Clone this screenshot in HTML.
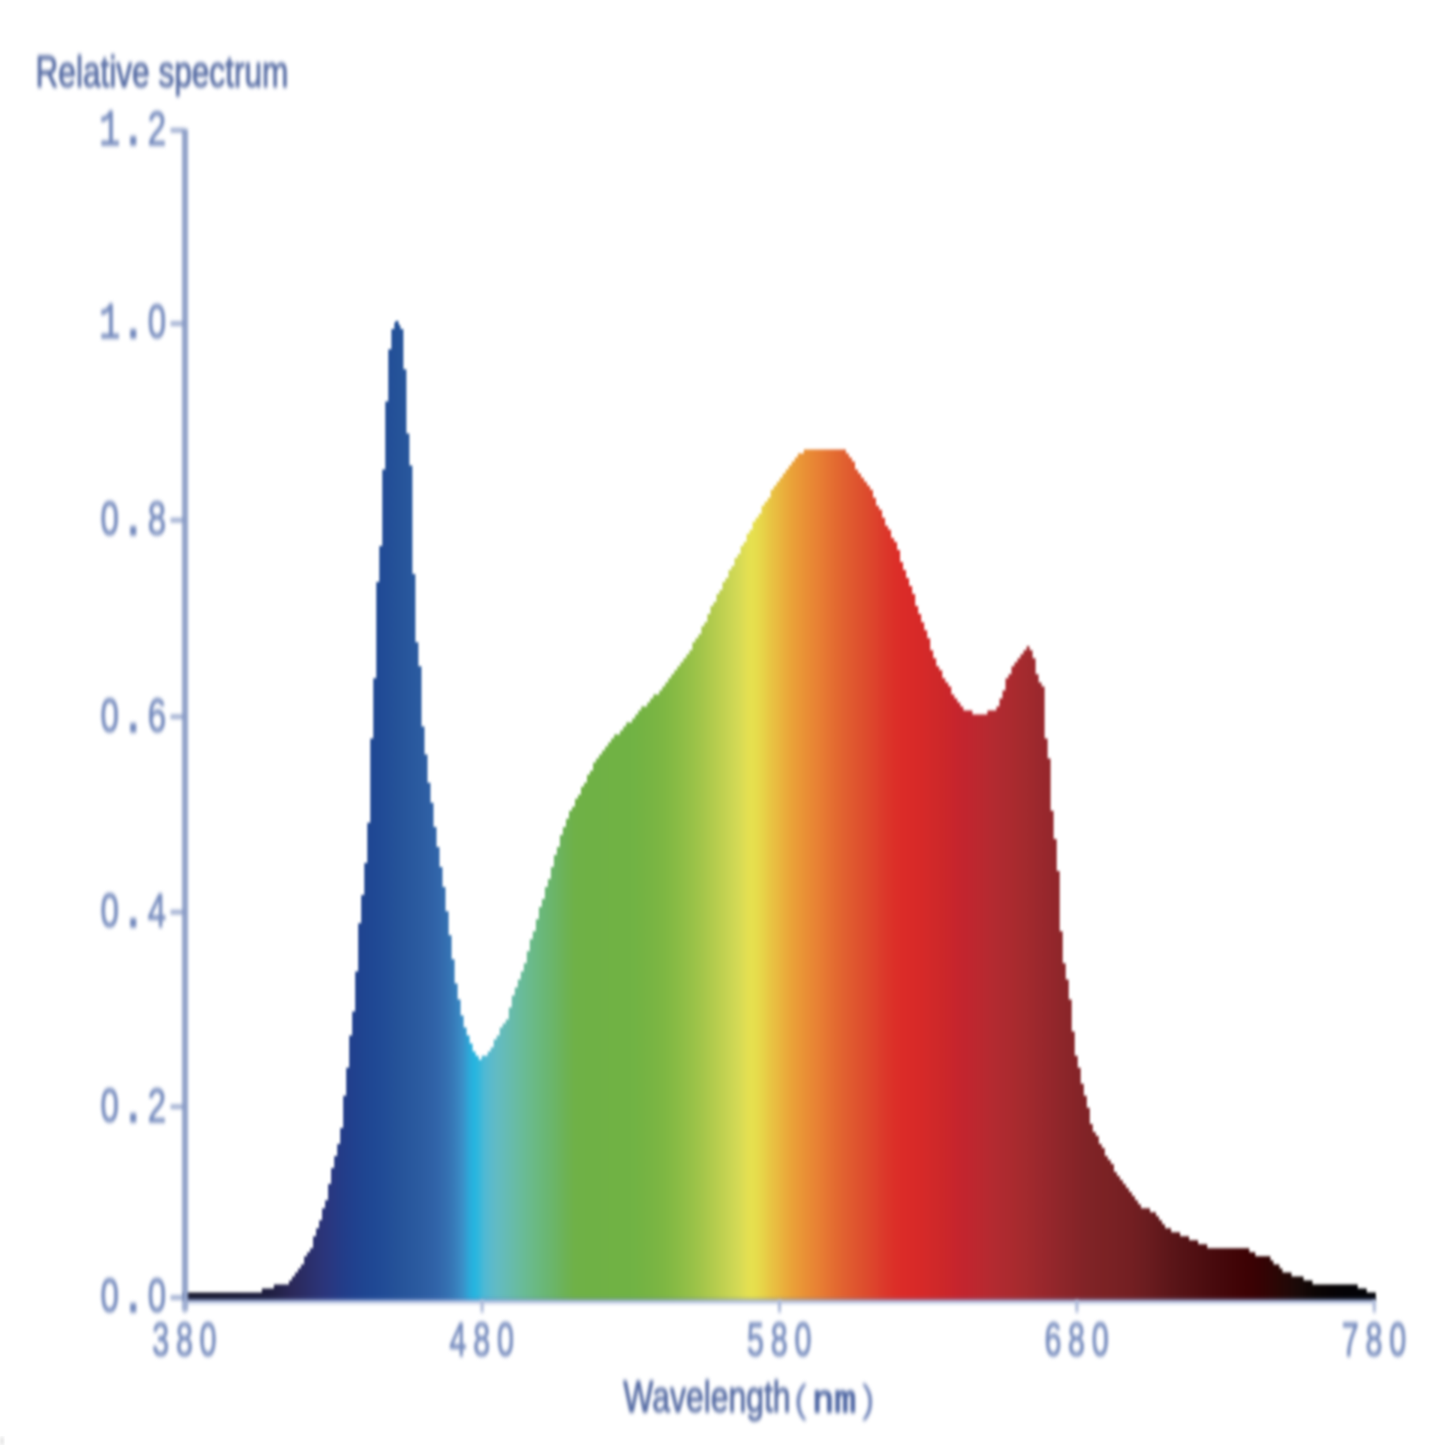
<!DOCTYPE html>
<html><head><meta charset="utf-8"><title>Relative spectrum</title>
<style>
html,body{margin:0;padding:0;background:#fff;}
body{width:1445px;height:1445px;overflow:hidden;}
svg{display:block;}
.dig{font-family:"Liberation Sans","DejaVu Sans",sans-serif;font-size:33px;fill:#748abd;stroke:#748abd;stroke-width:0.7px;}
.dx{font-size:30.5px;}
.mono.par{fill:#7286ba;stroke:#7286ba;stroke-width:0.3px;}
.mono .nm{fill:#5068a4;stroke:#5068a4;stroke-width:1.5px;}
.pt{font-size:38px;font-weight:bold;}
.m1{font-family:"Liberation Mono","DejaVu Sans Mono",monospace;font-size:35.5px;}
.mono{font-family:"Liberation Mono","DejaVu Sans Mono",monospace;font-size:36.6px;fill:#6880b6;stroke:#6880b6;stroke-width:0.9px;}
.sans{font-family:"Liberation Sans","DejaVu Sans",sans-serif;fill:#566ca4;stroke:#566ca4;stroke-width:0.7px;}
</style></head><body>
<svg width="1445" height="1445" viewBox="0 0 1445 1445">
<defs>
<linearGradient id="sp" gradientUnits="userSpaceOnUse" x1="184.7" y1="0" x2="1376" y2="0">
<stop offset="0.0000" stop-color="#1a1a30"/>
<stop offset="0.0063" stop-color="#1a1a30"/>
<stop offset="0.0126" stop-color="#1a1a31"/>
<stop offset="0.0189" stop-color="#1a1a31"/>
<stop offset="0.0252" stop-color="#1a1a32"/>
<stop offset="0.0314" stop-color="#1b1b33"/>
<stop offset="0.0377" stop-color="#1b1b35"/>
<stop offset="0.0440" stop-color="#1b1b36"/>
<stop offset="0.0503" stop-color="#1c1c38"/>
<stop offset="0.0566" stop-color="#1c1c3a"/>
<stop offset="0.0629" stop-color="#1d1d3c"/>
<stop offset="0.0632" stop-color="#1d1d3c"/>
<stop offset="0.0692" stop-color="#1f1e40"/>
<stop offset="0.0755" stop-color="#222146"/>
<stop offset="0.0818" stop-color="#26244e"/>
<stop offset="0.0881" stop-color="#2a2757"/>
<stop offset="0.0939" stop-color="#2b2a5e"/>
<stop offset="0.0943" stop-color="#2b2a5e"/>
<stop offset="0.1006" stop-color="#2b2d66"/>
<stop offset="0.1069" stop-color="#2b306f"/>
<stop offset="0.1132" stop-color="#2b3376"/>
<stop offset="0.1148" stop-color="#2b3478"/>
<stop offset="0.1195" stop-color="#2a367d"/>
<stop offset="0.1258" stop-color="#273983"/>
<stop offset="0.1321" stop-color="#233c88"/>
<stop offset="0.1379" stop-color="#213f8c"/>
<stop offset="0.1384" stop-color="#213f8c"/>
<stop offset="0.1447" stop-color="#20428f"/>
<stop offset="0.1509" stop-color="#1f4591"/>
<stop offset="0.1564" stop-color="#1f4793"/>
<stop offset="0.1572" stop-color="#1f4793"/>
<stop offset="0.1635" stop-color="#204a95"/>
<stop offset="0.1698" stop-color="#224d97"/>
<stop offset="0.1761" stop-color="#245198"/>
<stop offset="0.1824" stop-color="#26549a"/>
<stop offset="0.1846" stop-color="#27559b"/>
<stop offset="0.1887" stop-color="#28579d"/>
<stop offset="0.1950" stop-color="#2a5a9f"/>
<stop offset="0.2013" stop-color="#2d5da2"/>
<stop offset="0.2075" stop-color="#2f61a6"/>
<stop offset="0.2101" stop-color="#3063a8"/>
<stop offset="0.2138" stop-color="#3267ab"/>
<stop offset="0.2201" stop-color="#3470b1"/>
<stop offset="0.2240" stop-color="#3677b6"/>
<stop offset="0.2264" stop-color="#377cba"/>
<stop offset="0.2327" stop-color="#3a8ec7"/>
<stop offset="0.2334" stop-color="#3a90c8"/>
<stop offset="0.2390" stop-color="#2ca9d9"/>
<stop offset="0.2427" stop-color="#25b4df"/>
<stop offset="0.2453" stop-color="#2cb6de"/>
<stop offset="0.2516" stop-color="#4eb9d4"/>
<stop offset="0.2519" stop-color="#4fb9d4"/>
<stop offset="0.2579" stop-color="#5cbaca"/>
<stop offset="0.2636" stop-color="#63bbc0"/>
<stop offset="0.2642" stop-color="#63bbbf"/>
<stop offset="0.2704" stop-color="#66bbb3"/>
<stop offset="0.2767" stop-color="#68bba6"/>
<stop offset="0.2830" stop-color="#69bb99"/>
<stop offset="0.2845" stop-color="#69bb96"/>
<stop offset="0.2893" stop-color="#6aba8d"/>
<stop offset="0.2956" stop-color="#6ab981"/>
<stop offset="0.3019" stop-color="#6ab776"/>
<stop offset="0.3077" stop-color="#6bb56c"/>
<stop offset="0.3082" stop-color="#6bb56b"/>
<stop offset="0.3145" stop-color="#6cb35f"/>
<stop offset="0.3208" stop-color="#6db252"/>
<stop offset="0.3270" stop-color="#6fb148"/>
<stop offset="0.3310" stop-color="#6fb146"/>
<stop offset="0.3333" stop-color="#6fb146"/>
<stop offset="0.3396" stop-color="#6fb145"/>
<stop offset="0.3459" stop-color="#6fb145"/>
<stop offset="0.3522" stop-color="#70b145"/>
<stop offset="0.3585" stop-color="#70b244"/>
<stop offset="0.3648" stop-color="#70b244"/>
<stop offset="0.3704" stop-color="#70b244"/>
<stop offset="0.3711" stop-color="#70b244"/>
<stop offset="0.3774" stop-color="#71b344"/>
<stop offset="0.3836" stop-color="#74b343"/>
<stop offset="0.3899" stop-color="#77b443"/>
<stop offset="0.3962" stop-color="#7ab543"/>
<stop offset="0.3990" stop-color="#7cb643"/>
<stop offset="0.4025" stop-color="#7eb743"/>
<stop offset="0.4088" stop-color="#84b944"/>
<stop offset="0.4151" stop-color="#8bbc45"/>
<stop offset="0.4214" stop-color="#92bf47"/>
<stop offset="0.4222" stop-color="#93bf47"/>
<stop offset="0.4277" stop-color="#9ac248"/>
<stop offset="0.4340" stop-color="#a3c54a"/>
<stop offset="0.4403" stop-color="#adc94c"/>
<stop offset="0.4455" stop-color="#b5cc4e"/>
<stop offset="0.4465" stop-color="#b7cd4e"/>
<stop offset="0.4528" stop-color="#c1d151"/>
<stop offset="0.4591" stop-color="#cbd654"/>
<stop offset="0.4640" stop-color="#d3d955"/>
<stop offset="0.4654" stop-color="#d5da55"/>
<stop offset="0.4717" stop-color="#e2df52"/>
<stop offset="0.4756" stop-color="#e6e04f"/>
<stop offset="0.4780" stop-color="#e6df4d"/>
<stop offset="0.4843" stop-color="#e7d549"/>
<stop offset="0.4906" stop-color="#e8c744"/>
<stop offset="0.4919" stop-color="#e8c443"/>
<stop offset="0.4969" stop-color="#e9bb40"/>
<stop offset="0.5031" stop-color="#eaae3c"/>
<stop offset="0.5094" stop-color="#eaa238"/>
<stop offset="0.5105" stop-color="#eaa038"/>
<stop offset="0.5157" stop-color="#ea9837"/>
<stop offset="0.5220" stop-color="#e98e35"/>
<stop offset="0.5283" stop-color="#e88534"/>
<stop offset="0.5291" stop-color="#e88434"/>
<stop offset="0.5346" stop-color="#e77c33"/>
<stop offset="0.5409" stop-color="#e57232"/>
<stop offset="0.5472" stop-color="#e36930"/>
<stop offset="0.5501" stop-color="#e26530"/>
<stop offset="0.5535" stop-color="#e16130"/>
<stop offset="0.5597" stop-color="#e0592f"/>
<stop offset="0.5660" stop-color="#de522e"/>
<stop offset="0.5723" stop-color="#dd4b2d"/>
<stop offset="0.5732" stop-color="#dd4a2d"/>
<stop offset="0.5786" stop-color="#dd442c"/>
<stop offset="0.5849" stop-color="#dc3b2b"/>
<stop offset="0.5912" stop-color="#dc3429"/>
<stop offset="0.5975" stop-color="#dc2e28"/>
<stop offset="0.6035" stop-color="#db2b28"/>
<stop offset="0.6038" stop-color="#db2b28"/>
<stop offset="0.6101" stop-color="#d92a28"/>
<stop offset="0.6164" stop-color="#d72928"/>
<stop offset="0.6226" stop-color="#d42929"/>
<stop offset="0.6289" stop-color="#d02829"/>
<stop offset="0.6313" stop-color="#cf2829"/>
<stop offset="0.6352" stop-color="#cd2729"/>
<stop offset="0.6415" stop-color="#ca262b"/>
<stop offset="0.6478" stop-color="#c6252d"/>
<stop offset="0.6541" stop-color="#c2252e"/>
<stop offset="0.6546" stop-color="#c2252e"/>
<stop offset="0.6604" stop-color="#bf262f"/>
<stop offset="0.6667" stop-color="#bb282f"/>
<stop offset="0.6730" stop-color="#b72930"/>
<stop offset="0.6777" stop-color="#b42a30"/>
<stop offset="0.6792" stop-color="#b32a30"/>
<stop offset="0.6855" stop-color="#af2a30"/>
<stop offset="0.6918" stop-color="#ac2a2f"/>
<stop offset="0.6981" stop-color="#a82a2e"/>
<stop offset="0.7012" stop-color="#a62a2e"/>
<stop offset="0.7044" stop-color="#a42a2e"/>
<stop offset="0.7107" stop-color="#a0292d"/>
<stop offset="0.7170" stop-color="#9b282d"/>
<stop offset="0.7233" stop-color="#97272c"/>
<stop offset="0.7244" stop-color="#96272c"/>
<stop offset="0.7296" stop-color="#93262b"/>
<stop offset="0.7358" stop-color="#8e262a"/>
<stop offset="0.7421" stop-color="#8a2529"/>
<stop offset="0.7484" stop-color="#862428"/>
<stop offset="0.7547" stop-color="#822327"/>
<stop offset="0.7591" stop-color="#802326"/>
<stop offset="0.7610" stop-color="#7f2326"/>
<stop offset="0.7673" stop-color="#7d2225"/>
<stop offset="0.7736" stop-color="#7b2224"/>
<stop offset="0.7799" stop-color="#792124"/>
<stop offset="0.7862" stop-color="#762023"/>
<stop offset="0.7925" stop-color="#741f22"/>
<stop offset="0.7941" stop-color="#731f22"/>
<stop offset="0.7987" stop-color="#701e21"/>
<stop offset="0.8050" stop-color="#6c1d20"/>
<stop offset="0.8113" stop-color="#681b1e"/>
<stop offset="0.8176" stop-color="#63191c"/>
<stop offset="0.8239" stop-color="#5e171a"/>
<stop offset="0.8288" stop-color="#5b1518"/>
<stop offset="0.8302" stop-color="#5a1518"/>
<stop offset="0.8365" stop-color="#561316"/>
<stop offset="0.8428" stop-color="#531114"/>
<stop offset="0.8491" stop-color="#500f12"/>
<stop offset="0.8553" stop-color="#4c0d10"/>
<stop offset="0.8616" stop-color="#490b0e"/>
<stop offset="0.8640" stop-color="#480a0d"/>
<stop offset="0.8679" stop-color="#46090c"/>
<stop offset="0.8742" stop-color="#44070a"/>
<stop offset="0.8805" stop-color="#410507"/>
<stop offset="0.8868" stop-color="#3f0305"/>
<stop offset="0.8931" stop-color="#3c0204"/>
<stop offset="0.8968" stop-color="#3a0204"/>
<stop offset="0.8994" stop-color="#380204"/>
<stop offset="0.9057" stop-color="#340304"/>
<stop offset="0.9119" stop-color="#2f0505"/>
<stop offset="0.9152" stop-color="#2c0605"/>
<stop offset="0.9182" stop-color="#290705"/>
<stop offset="0.9245" stop-color="#240807"/>
<stop offset="0.9308" stop-color="#1e0908"/>
<stop offset="0.9328" stop-color="#1c0908"/>
<stop offset="0.9371" stop-color="#180908"/>
<stop offset="0.9434" stop-color="#110706"/>
<stop offset="0.9497" stop-color="#0c0505"/>
<stop offset="0.9513" stop-color="#0b0505"/>
<stop offset="0.9560" stop-color="#090405"/>
<stop offset="0.9623" stop-color="#070305"/>
<stop offset="0.9686" stop-color="#050306"/>
<stop offset="0.9698" stop-color="#050306"/>
<stop offset="0.9748" stop-color="#040306"/>
<stop offset="0.9811" stop-color="#040307"/>
<stop offset="0.9874" stop-color="#030307"/>
<stop offset="0.9937" stop-color="#030308"/>
<stop offset="1.0000" stop-color="#030308"/>
</linearGradient>
<filter id="bl" color-interpolation-filters="sRGB" x="-2%" y="-2%" width="104%" height="104%"><feGaussianBlur stdDeviation="1.5 1.9"/></filter>
<filter id="bf" color-interpolation-filters="sRGB" x="-2%" y="-2%" width="104%" height="104%"><feGaussianBlur stdDeviation="1.15 1.45"/></filter>
</defs>
<rect width="1445" height="1445" fill="#fff"/>
<rect x="0" y="1437" width="4" height="8" fill="#e6e6e6" filter="url(#bl)"/>
<g filter="url(#bf)">
<polygon fill="url(#sp)" points="183.6,1292.5 186.6,1292.5 186.6,1292.5 189.7,1292.5 189.7,1292.5 192.7,1292.5 192.7,1292.5 195.7,1292.5 195.7,1292.5 198.7,1292.5 198.7,1292.5 201.7,1292.5 201.7,1292.5 204.7,1292.5 204.7,1292.5 207.7,1292.5 207.7,1292.5 210.7,1292.5 210.7,1292.5 213.7,1292.5 213.7,1292.5 216.8,1292.5 216.8,1292.5 219.8,1292.5 219.8,1292.5 222.8,1292.5 222.8,1292.5 225.8,1292.5 225.8,1292.5 228.8,1292.5 228.8,1292.5 231.8,1292.5 231.8,1292.5 234.8,1292.5 234.8,1292.5 237.8,1292.5 237.8,1292.5 240.8,1292.5 240.8,1292.5 243.8,1292.5 243.8,1292.5 246.9,1292.5 246.9,1292.5 249.9,1292.5 249.9,1292.5 252.9,1292.5 252.9,1292.5 255.9,1292.5 255.9,1292.5 258.9,1292.5 258.9,1292.5 261.9,1292.5 261.9,1288.5 264.9,1288.5 264.9,1288.5 267.9,1288.5 267.9,1288.5 270.9,1288.5 270.9,1288.5 273.9,1288.5 273.9,1284.4 277.0,1284.4 277.0,1284.4 280.0,1284.4 280.0,1284.4 283.0,1284.4 283.0,1284.4 286.0,1284.4 286.0,1284.4 289.0,1284.4 289.0,1280.4 292.0,1280.4 292.0,1276.4 295.0,1276.4 295.0,1272.4 298.0,1272.4 298.0,1268.4 301.0,1268.4 301.0,1264.4 304.1,1264.4 304.1,1256.3 307.1,1256.3 307.1,1252.3 310.1,1252.3 310.1,1248.3 313.1,1248.3 313.1,1236.3 316.1,1236.3 316.1,1228.3 319.1,1228.3 319.1,1220.2 322.1,1220.2 322.1,1208.2 325.1,1208.2 325.1,1200.2 328.1,1200.2 328.1,1184.1 331.1,1184.1 331.1,1168.0 334.2,1168.0 334.2,1156.0 337.2,1156.0 337.2,1144.0 340.2,1144.0 340.2,1127.9 343.2,1127.9 343.2,1095.8 346.2,1095.8 346.2,1067.7 349.2,1067.7 349.2,1035.6 352.2,1035.6 352.2,1011.5 355.2,1011.5 355.2,971.4 358.2,971.4 358.2,923.2 361.2,923.2 361.2,895.1 364.3,895.1 364.3,863.0 367.3,863.0 367.3,822.8 370.3,822.8 370.3,738.6 373.3,738.6 373.3,678.3 376.3,678.3 376.3,582.0 379.3,582.0 379.3,545.9 382.3,545.9 382.3,469.6 385.3,469.6 385.3,401.4 388.3,401.4 388.3,349.2 391.4,349.2 391.4,329.1 394.4,329.1 394.4,325.1 397.4,325.1 397.4,325.1 400.4,325.1 400.4,329.1 403.4,329.1 403.4,369.3 406.4,369.3 406.4,433.5 409.4,433.5 409.4,465.6 412.4,465.6 412.4,574.0 415.4,574.0 415.4,642.2 418.4,642.2 418.4,666.3 421.5,666.3 421.5,726.5 424.5,726.5 424.5,754.6 427.5,754.6 427.5,782.7 430.5,782.7 430.5,802.8 433.5,802.8 433.5,826.9 436.5,826.9 436.5,846.9 439.5,846.9 439.5,867.0 442.5,867.0 442.5,887.1 445.5,887.1 445.5,911.2 448.6,911.2 448.6,935.2 451.6,935.2 451.6,959.3 454.6,959.3 454.6,983.4 457.6,983.4 457.6,999.5 460.6,999.5 460.6,1015.5 463.6,1015.5 463.6,1027.6 466.6,1027.6 466.6,1035.6 469.6,1035.6 469.6,1043.6 472.6,1043.6 472.6,1051.6 475.6,1051.6 475.6,1055.7 478.7,1055.7 478.7,1059.7 481.7,1059.7 481.7,1055.7 484.7,1055.7 484.7,1055.7 487.7,1055.7 487.7,1051.6 490.7,1051.6 490.7,1047.6 493.7,1047.6 493.7,1039.6 496.7,1039.6 496.7,1035.6 499.7,1035.6 499.7,1027.6 502.7,1027.6 502.7,1023.5 505.8,1023.5 505.8,1019.5 508.8,1019.5 508.8,1007.5 511.8,1007.5 511.8,995.4 514.8,995.4 514.8,987.4 517.8,987.4 517.8,979.4 520.8,979.4 520.8,971.4 523.8,971.4 523.8,963.3 526.8,963.3 526.8,951.3 529.8,951.3 529.8,939.3 532.8,939.3 532.8,931.2 535.9,931.2 535.9,919.2 538.9,919.2 538.9,907.1 541.9,907.1 541.9,899.1 544.9,899.1 544.9,887.1 547.9,887.1 547.9,879.0 550.9,879.0 550.9,867.0 553.9,867.0 553.9,855.0 556.9,855.0 556.9,846.9 559.9,846.9 559.9,834.9 562.9,834.9 562.9,826.9 566.0,826.9 566.0,818.8 569.0,818.8 569.0,810.8 572.0,810.8 572.0,806.8 575.0,806.8 575.0,798.8 578.0,798.8 578.0,794.8 581.0,794.8 581.0,786.7 584.0,786.7 584.0,782.7 587.0,782.7 587.0,774.7 590.0,774.7 590.0,770.7 593.1,770.7 593.1,762.6 596.1,762.6 596.1,758.6 599.1,758.6 599.1,754.6 602.1,754.6 602.1,750.6 605.1,750.6 605.1,746.6 608.1,746.6 608.1,742.6 611.1,742.6 611.1,738.6 614.1,738.6 614.1,734.5 617.1,734.5 617.1,734.5 620.1,734.5 620.1,730.5 623.2,730.5 623.2,726.5 626.2,726.5 626.2,722.5 629.2,722.5 629.2,722.5 632.2,722.5 632.2,718.5 635.2,718.5 635.2,714.5 638.2,714.5 638.2,710.5 641.2,710.5 641.2,706.4 644.2,706.4 644.2,706.4 647.2,706.4 647.2,702.4 650.2,702.4 650.2,698.4 653.3,698.4 653.3,694.4 656.3,694.4 656.3,694.4 659.3,694.4 659.3,690.4 662.3,690.4 662.3,686.4 665.3,686.4 665.3,682.4 668.3,682.4 668.3,678.3 671.3,678.3 671.3,674.3 674.3,674.3 674.3,670.3 677.3,670.3 677.3,666.3 680.4,666.3 680.4,662.3 683.4,662.3 683.4,658.3 686.4,658.3 686.4,654.3 689.4,654.3 689.4,650.3 692.4,650.3 692.4,642.2 695.4,642.2 695.4,638.2 698.4,638.2 698.4,634.2 701.4,634.2 701.4,626.2 704.4,626.2 704.4,622.2 707.4,622.2 707.4,614.1 710.5,614.1 710.5,606.1 713.5,606.1 713.5,602.1 716.5,602.1 716.5,594.1 719.5,594.1 719.5,590.0 722.5,590.0 722.5,582.0 725.5,582.0 725.5,578.0 728.5,578.0 728.5,570.0 731.5,570.0 731.5,566.0 734.5,566.0 734.5,557.9 737.6,557.9 737.6,553.9 740.6,553.9 740.6,545.9 743.6,545.9 743.6,541.9 746.6,541.9 746.6,533.8 749.6,533.8 749.6,529.8 752.6,529.8 752.6,521.8 755.6,521.8 755.6,517.8 758.6,517.8 758.6,513.8 761.6,513.8 761.6,505.8 764.6,505.8 764.6,501.7 767.7,501.7 767.7,497.7 770.7,497.7 770.7,489.7 773.7,489.7 773.7,485.7 776.7,485.7 776.7,481.7 779.7,481.7 779.7,477.7 782.7,477.7 782.7,473.6 785.7,473.6 785.7,469.6 788.7,469.6 788.7,465.6 791.7,465.6 791.7,461.6 794.8,461.6 794.8,457.6 797.8,457.6 797.8,453.6 800.8,453.6 800.8,453.6 803.8,453.6 803.8,449.6 806.8,449.6 806.8,449.6 809.8,449.6 809.8,449.6 812.8,449.6 812.8,449.6 815.8,449.6 815.8,449.6 818.8,449.6 818.8,449.6 821.8,449.6 821.8,449.6 824.9,449.6 824.9,449.6 827.9,449.6 827.9,449.6 830.9,449.6 830.9,449.6 833.9,449.6 833.9,449.6 836.9,449.6 836.9,449.6 839.9,449.6 839.9,449.6 842.9,449.6 842.9,449.6 845.9,449.6 845.9,453.6 848.9,453.6 848.9,457.6 851.9,457.6 851.9,461.6 855.0,461.6 855.0,469.6 858.0,469.6 858.0,473.6 861.0,473.6 861.0,477.7 864.0,477.7 864.0,481.7 867.0,481.7 867.0,485.7 870.0,485.7 870.0,489.7 873.0,489.7 873.0,497.7 876.0,497.7 876.0,505.8 879.0,505.8 879.0,509.8 882.1,509.8 882.1,517.8 885.1,517.8 885.1,525.8 888.1,525.8 888.1,529.8 891.1,529.8 891.1,537.9 894.1,537.9 894.1,541.9 897.1,541.9 897.1,549.9 900.1,549.9 900.1,561.9 903.1,561.9 903.1,570.0 906.1,570.0 906.1,578.0 909.1,578.0 909.1,586.0 912.2,586.0 912.2,594.1 915.2,594.1 915.2,606.1 918.2,606.1 918.2,614.1 921.2,614.1 921.2,622.2 924.2,622.2 924.2,630.2 927.2,630.2 927.2,638.2 930.2,638.2 930.2,650.3 933.2,650.3 933.2,658.3 936.2,658.3 936.2,666.3 939.2,666.3 939.2,670.3 942.3,670.3 942.3,678.3 945.3,678.3 945.3,682.4 948.3,682.4 948.3,686.4 951.3,686.4 951.3,694.4 954.3,694.4 954.3,698.4 957.3,698.4 957.3,702.4 960.3,702.4 960.3,706.4 963.3,706.4 963.3,710.5 966.3,710.5 966.3,710.5 969.4,710.5 969.4,710.5 972.4,710.5 972.4,714.5 975.4,714.5 975.4,714.5 978.4,714.5 978.4,714.5 981.4,714.5 981.4,714.5 984.4,714.5 984.4,714.5 987.4,714.5 987.4,710.5 990.4,710.5 990.4,710.5 993.4,710.5 993.4,710.5 996.4,710.5 996.4,706.4 999.5,706.4 999.5,698.4 1002.5,698.4 1002.5,690.4 1005.5,690.4 1005.5,678.3 1008.5,678.3 1008.5,674.3 1011.5,674.3 1011.5,666.3 1014.5,666.3 1014.5,662.3 1017.5,662.3 1017.5,658.3 1020.5,658.3 1020.5,654.3 1023.5,654.3 1023.5,650.3 1026.6,650.3 1026.6,646.2 1029.6,646.2 1029.6,650.3 1032.6,650.3 1032.6,658.3 1035.6,658.3 1035.6,674.3 1038.6,674.3 1038.6,682.4 1041.6,682.4 1041.6,686.4 1044.6,686.4 1044.6,738.6 1047.6,738.6 1047.6,758.6 1050.6,758.6 1050.6,810.8 1053.6,810.8 1053.6,838.9 1056.7,838.9 1056.7,871.0 1059.7,871.0 1059.7,931.2 1062.7,931.2 1062.7,963.3 1065.7,963.3 1065.7,979.4 1068.7,979.4 1068.7,999.5 1071.7,999.5 1071.7,1031.6 1074.7,1031.6 1074.7,1055.7 1077.7,1055.7 1077.7,1067.7 1080.7,1067.7 1080.7,1083.8 1083.8,1083.8 1083.8,1095.8 1086.8,1095.8 1086.8,1107.8 1089.8,1107.8 1089.8,1123.9 1092.8,1123.9 1092.8,1131.9 1095.8,1131.9 1095.8,1135.9 1098.8,1135.9 1098.8,1144.0 1101.8,1144.0 1101.8,1148.0 1104.8,1148.0 1104.8,1156.0 1107.8,1156.0 1107.8,1160.0 1110.8,1160.0 1110.8,1164.0 1113.9,1164.0 1113.9,1172.1 1116.9,1172.1 1116.9,1176.1 1119.9,1176.1 1119.9,1180.1 1122.9,1180.1 1122.9,1184.1 1125.9,1184.1 1125.9,1188.1 1128.9,1188.1 1128.9,1192.1 1131.9,1192.1 1131.9,1196.1 1134.9,1196.1 1134.9,1200.2 1137.9,1200.2 1137.9,1204.2 1140.9,1204.2 1140.9,1208.2 1144.0,1208.2 1144.0,1208.2 1147.0,1208.2 1147.0,1208.2 1150.0,1208.2 1150.0,1212.2 1153.0,1212.2 1153.0,1212.2 1156.0,1212.2 1156.0,1216.2 1159.0,1216.2 1159.0,1220.2 1162.0,1220.2 1162.0,1224.2 1165.0,1224.2 1165.0,1228.3 1168.0,1228.3 1168.0,1228.3 1171.1,1228.3 1171.1,1232.3 1174.1,1232.3 1174.1,1232.3 1177.1,1232.3 1177.1,1232.3 1180.1,1232.3 1180.1,1236.3 1183.1,1236.3 1183.1,1236.3 1186.1,1236.3 1186.1,1236.3 1189.1,1236.3 1189.1,1240.3 1192.1,1240.3 1192.1,1240.3 1195.1,1240.3 1195.1,1240.3 1198.1,1240.3 1198.1,1244.3 1201.2,1244.3 1201.2,1244.3 1204.2,1244.3 1204.2,1244.3 1207.2,1244.3 1207.2,1248.3 1210.2,1248.3 1210.2,1248.3 1213.2,1248.3 1213.2,1248.3 1216.2,1248.3 1216.2,1248.3 1219.2,1248.3 1219.2,1248.3 1222.2,1248.3 1222.2,1248.3 1225.2,1248.3 1225.2,1248.3 1228.2,1248.3 1228.2,1248.3 1231.3,1248.3 1231.3,1248.3 1234.3,1248.3 1234.3,1248.3 1237.3,1248.3 1237.3,1248.3 1240.3,1248.3 1240.3,1248.3 1243.3,1248.3 1243.3,1248.3 1246.3,1248.3 1246.3,1248.3 1249.3,1248.3 1249.3,1252.3 1252.3,1252.3 1252.3,1252.3 1255.3,1252.3 1255.3,1256.3 1258.4,1256.3 1258.4,1256.3 1261.4,1256.3 1261.4,1256.3 1264.4,1256.3 1264.4,1256.3 1267.4,1256.3 1267.4,1256.3 1270.4,1256.3 1270.4,1260.4 1273.4,1260.4 1273.4,1264.4 1276.4,1264.4 1276.4,1264.4 1279.4,1264.4 1279.4,1268.4 1282.4,1268.4 1282.4,1272.4 1285.4,1272.4 1285.4,1272.4 1288.5,1272.4 1288.5,1272.4 1291.5,1272.4 1291.5,1276.4 1294.5,1276.4 1294.5,1276.4 1297.5,1276.4 1297.5,1276.4 1300.5,1276.4 1300.5,1276.4 1303.5,1276.4 1303.5,1280.4 1306.5,1280.4 1306.5,1280.4 1309.5,1280.4 1309.5,1280.4 1312.5,1280.4 1312.5,1284.4 1315.6,1284.4 1315.6,1284.4 1318.6,1284.4 1318.6,1284.4 1321.6,1284.4 1321.6,1284.4 1324.6,1284.4 1324.6,1284.4 1327.6,1284.4 1327.6,1284.4 1330.6,1284.4 1330.6,1284.4 1333.6,1284.4 1333.6,1284.4 1336.6,1284.4 1336.6,1284.4 1339.6,1284.4 1339.6,1284.4 1342.6,1284.4 1342.6,1284.4 1345.7,1284.4 1345.7,1284.4 1348.7,1284.4 1348.7,1284.4 1351.7,1284.4 1351.7,1284.4 1354.7,1284.4 1354.7,1284.4 1357.7,1284.4 1357.7,1288.5 1360.7,1288.5 1360.7,1288.5 1363.7,1288.5 1363.7,1288.5 1366.7,1288.5 1366.7,1292.5 1369.7,1292.5 1369.7,1292.5 1372.8,1292.5 1372.8,1292.5 1375.8,1292.5 1375.8,1300.5 183.6,1300.5"/>
<polygon fill="#26539a" points="394.4,326 394.4,323 396,321 398.6,321 398.6,326"/>
</g>
<g filter="url(#bl)">
<line x1="185" y1="1301" x2="1376" y2="1301" stroke="#6f88c4" stroke-opacity="0.6" stroke-width="4.5"/>
<line x1="185" y1="129" x2="185" y2="1311" stroke="#93a4ca" stroke-width="6"/>
<line x1="170.5" y1="1297.6" x2="185" y2="1297.6" stroke="#8497c4" stroke-width="3.6"/>
<text class="dig" text-anchor="middle" transform="translate(0,1312.4) scale(1,1.45)" x="109.6 133.3 157.0">0<tspan class="pt">.</tspan>0</text>
<line x1="170.5" y1="1106.7" x2="185" y2="1106.7" stroke="#8497c4" stroke-width="3.6"/>
<text class="dig" text-anchor="middle" transform="translate(0,1121.5) scale(1,1.45)" x="109.6 133.3 157.0">0<tspan class="pt">.</tspan>2</text>
<line x1="170.5" y1="912.2" x2="185" y2="912.2" stroke="#8497c4" stroke-width="3.6"/>
<text class="dig" text-anchor="middle" transform="translate(0,927.0) scale(1,1.45)" x="109.6 133.3 157.0">0<tspan class="pt">.</tspan>4</text>
<line x1="170.5" y1="716.7" x2="185" y2="716.7" stroke="#8497c4" stroke-width="3.6"/>
<text class="dig" text-anchor="middle" transform="translate(0,731.5) scale(1,1.45)" x="109.6 133.3 157.0">0<tspan class="pt">.</tspan>6</text>
<line x1="170.5" y1="520.2" x2="185" y2="520.2" stroke="#8497c4" stroke-width="3.6"/>
<text class="dig" text-anchor="middle" transform="translate(0,535.0) scale(1,1.45)" x="109.6 133.3 157.0">0<tspan class="pt">.</tspan>8</text>
<line x1="170.5" y1="323.6" x2="185" y2="323.6" stroke="#8497c4" stroke-width="3.6"/>
<text class="dig" text-anchor="middle" transform="translate(0,338.4) scale(1,1.45)" x="109.6 133.3 157.0"><tspan class="m1">1</tspan><tspan class="pt">.</tspan>0</text>
<line x1="170.5" y1="130.3" x2="185" y2="130.3" stroke="#8497c4" stroke-width="3.6"/>
<text class="dig" text-anchor="middle" transform="translate(0,145.1) scale(1,1.45)" x="109.6 133.3 157.0"><tspan class="m1">1</tspan><tspan class="pt">.</tspan>2</text>
<line x1="184.7" y1="1300" x2="184.7" y2="1312.5" stroke="#a7b5d6" stroke-width="3"/>
<text class="dig dx" text-anchor="middle" transform="translate(0,1355.5) scale(1,1.55)" x="160.7 184.4 208.1">380</text>
<line x1="482.1" y1="1300" x2="482.1" y2="1312.5" stroke="#a7b5d6" stroke-width="3"/>
<text class="dig dx" text-anchor="middle" transform="translate(0,1355.5) scale(1,1.55)" x="458.1 481.8 505.5">480</text>
<line x1="779.5" y1="1300" x2="779.5" y2="1312.5" stroke="#a7b5d6" stroke-width="3"/>
<text class="dig dx" text-anchor="middle" transform="translate(0,1355.5) scale(1,1.55)" x="755.5 779.2 802.9">580</text>
<line x1="1076.9" y1="1300" x2="1076.9" y2="1312.5" stroke="#a7b5d6" stroke-width="3"/>
<text class="dig dx" text-anchor="middle" transform="translate(0,1355.5) scale(1,1.55)" x="1052.9 1076.6 1100.3">680</text>
<line x1="1374.3" y1="1300" x2="1374.3" y2="1312.5" stroke="#a7b5d6" stroke-width="3"/>
<text class="dig dx" text-anchor="middle" transform="translate(0,1355.5) scale(1,1.55)" x="1350.3 1374.0 1397.7">780</text>

<text class="sans" font-size="31.6" transform="translate(35.5,86.7) scale(1,1.42)">Relative spectrum</text>
<text class="sans" font-size="31.9" transform="translate(623.3,1412.3) scale(1,1.41)">Wavelength</text>
<text class="mono par" transform="translate(790.4,1411.8) scale(1,1.06)">(<tspan class="nm">nm</tspan>)</text>
</g>
</svg>
</body></html>
